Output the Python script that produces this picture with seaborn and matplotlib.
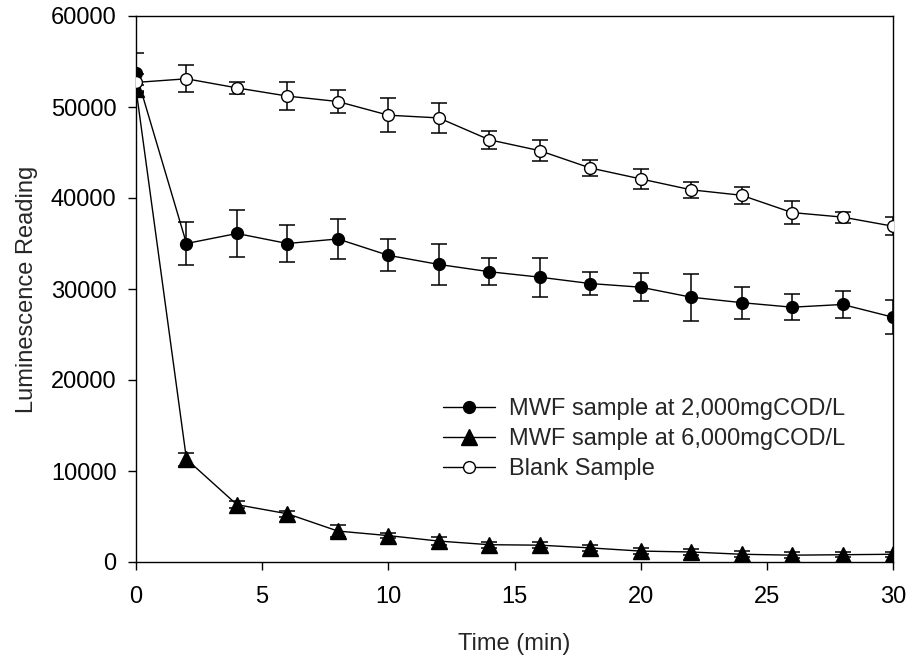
import numpy as np
import pandas as pd
import matplotlib
matplotlib.use("Agg")
import matplotlib.pyplot as plt
import seaborn as sns

time_min = [0, 2, 4, 6, 8, 10, 12, 14, 16, 18, 20, 22, 24, 26, 28, 30]

mwf2000 = [53700, 35000, 36100, 35000, 35500, 33700, 32700, 31900, 31300, 30600,
           30200, 29100, 28500, 28000, 28300, 26900]
mwf2000_err = [2200, 2400, 2600, 2000, 2200, 1750, 2300, 1500, 2150, 1300,
               1550, 2600, 1750, 1450, 1450, 1850]

mwf6000 = [52000, 11300, 6300, 5300, 3400, 2900, 2300, 1900, 1850, 1550,
           1200, 1100, 850, 750, 800, 850]
mwf6000_err = [400, 700, 350, 350, 650, 300, 450, 350, 300, 300,
               300, 300, 350, 300, 300, 300]

blank = [52700, 53100, 52100, 51200, 50600, 49100, 48800, 46400, 45200, 43300,
         42100, 40900, 40300, 38400, 37900, 36900]
blank_err = [900, 1500, 700, 1500, 1300, 1900, 1650, 1000, 1150, 900,
             1100, 850, 950, 1300, 600, 1000]

labels = ["MWF sample at 2,000mgCOD/L", "MWF sample at 6,000mgCOD/L", "Blank Sample"]
x_ticks = [0, 5, 10, 15, 20, 25, 30]
y_ticks = [0, 10000, 20000, 30000, 40000, 50000, 60000]

sns.set_style("ticks")
plt.rcParams["font.family"] = ["Liberation Sans", "DejaVu Sans"]
plt.rcParams["font.size"] = 17

fig = plt.figure(figsize=(9.09, 6.56), dpi=100)
ax = fig.add_axes([136/909, 94/656, 757/909, 546/656])

series = [
    (labels[0], mwf2000, mwf2000_err, dict(marker="o", markersize=8.5, markerfacecolor="black")),
    (labels[1], mwf6000, mwf6000_err, dict(marker="^", markersize=11.5, markerfacecolor="black")),
    (labels[2], blank, blank_err, dict(marker="o", markersize=8.5, markerfacecolor="white")),
]

for i, (lab, vals, errs, style) in enumerate(series):
    df = pd.DataFrame({"Time": time_min, "Value": vals})
    ax.errorbar(time_min, vals, yerr=errs, fmt="none", ecolor="black",
                elinewidth=1.1, capsize=6, capthick=1.1, zorder=2 + i * 2)
    sns.lineplot(data=df, x="Time", y="Value", ax=ax, color="black", linewidth=1.0,
                 markeredgecolor="black", markeredgewidth=1.0, label=lab,
                 zorder=3 + i * 2, **style)

ax.set_xlim(0, 30)
ax.set_ylim(0, 60000)
ax.set_xticks(x_ticks)
ax.set_yticks(y_ticks)
ax.set_xlabel("Time (min)", labelpad=18)
ax.set_ylabel("Luminescence Reading", labelpad=9)

for sp in ax.spines.values():
    sp.set_visible(True)
    sp.set_linewidth(1.0)
    sp.set_color("black")
ax.tick_params(axis="both", direction="out", length=6, width=1.0, colors="black",
               top=False, right=False)
ax.tick_params(axis="x", pad=11)
ax.tick_params(axis="y", pad=8)

leg = ax.legend(loc="center left", bbox_to_anchor=(0.4055, 0.2253), frameon=False,
                borderaxespad=0, borderpad=0, handlelength=2.2, handletextpad=0.6,
                labelspacing=0.34, fontsize=17)
leg.set_zorder(20)

fig.savefig("out.png", dpi=100, facecolor="white")
